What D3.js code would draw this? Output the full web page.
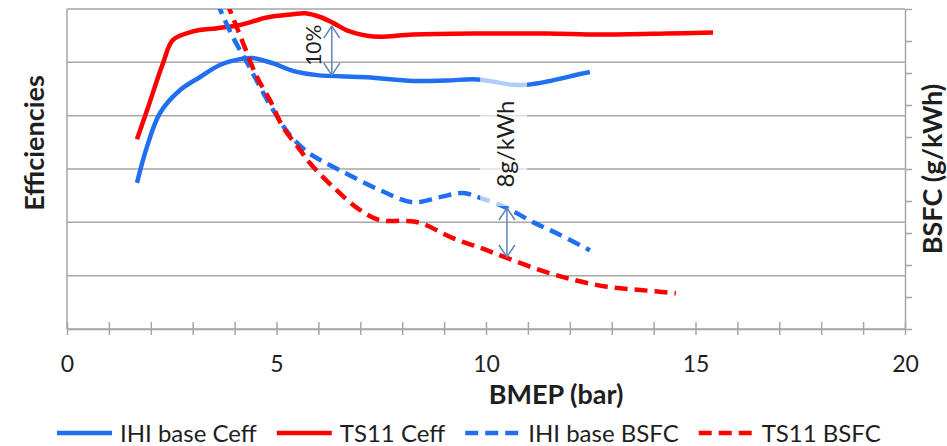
<!DOCTYPE html>
<html lang="en">
<head>
<meta charset="UTF-8" />
<title>Efficiencies and BSFC vs BMEP</title>
<script src="https://d3js.org/d3.v7.min.js"></script>
<style>
  body { margin: 0; background: #fff; }
  text { font-family: Lato, "Open Sans", sans-serif; fill: #1e1e1e; }
  .axis-title { font-weight: bold; font-size: 27px; }
</style>
</head>
<body>
<div id="chart"></div>
<script>
// BMEP (bar) and values
const ihiCeffX = [1.67, 1.91, 2.22, 2.70, 3.17, 3.65, 4.13, 4.44, 4.92, 5.39, 5.97, 7.16, 8.26, 9.07, 9.79, 10.64, 10.98, 11.46, 12.24, 12.48];
const ihiCeffY = [28.7, 32.1, 35.25, 37.4, 38.6, 39.75, 40.3, 40.4, 39.9, 39.2, 38.8, 38.6, 38.25, 38.3, 38.4, 37.9, 37.9, 38.2, 38.9, 39.1];

const ts11CeffX = [1.67, 1.91, 2.29, 2.53, 3.01, 3.58, 4.13, 4.77, 5.39, 5.68, 6.04, 6.35, 6.68, 7.16, 7.47, 8.26, 9.86, 11.46, 12.72, 14.32, 15.42];
const ts11CeffY = [32.8, 35.5, 39.9, 42.1, 42.9, 43.2, 43.5, 44.2, 44.5, 44.6, 44.25, 43.7, 43.0, 42.5, 42.4, 42.6, 42.7, 42.7, 42.6, 42.7, 42.8];

const ihiBsfcX = [3.40, 3.65, 3.96, 4.30, 4.61, 4.92, 5.32, 5.73, 6.04, 6.51, 7.47, 8.26, 8.90, 9.45, 9.86, 10.50, 11.12, 11.77, 12.48];
const ihiBsfcY = [254.0, 250.0, 245.6, 241.6, 237.8, 234.2, 230.3, 227.7, 226.4, 224.8, 221.7, 219.8, 220.6, 221.25, 220.5, 218.9, 216.7, 214.7, 212.3];

const ts11BsfcX = [3.62, 3.89, 4.20, 4.53, 4.84, 5.15, 5.56, 5.80, 6.35, 6.99, 7.47, 8.02, 8.42, 9.21, 9.86, 10.50, 11.29, 12.08, 12.89, 13.68, 14.53];
const ts11BsfcY = [254.0, 249.8, 244.7, 239.4, 235.8, 231.6, 228.0, 225.9, 222.2, 218.6, 217.0, 216.9, 216.6, 214.2, 212.7, 211.1, 209.2, 207.7, 206.6, 206.1, 205.6];

const seriesNames = ["IHI base Ceff", "TS11 Ceff", "IHI base BSFC", "TS11 BSFC"];
const xTickLabels = [0, 5, 10, 15, 20];

const w = 947;
const h = 446;
const plotLeft = 67, plotRight = 905, plotTop = 9, plotBottom = 329;

const blue = "#1f6ff0";
const red = "#ff0000";
const grid = "#a6a6a6";
const arrowColor = "#5b84bd";

const svg = d3.select("#chart").append("svg")
  .attr("width", w)
  .attr("height", h);

// scales: efficiencies on the left (no labels), BSFC on the right
const x = d3.scaleLinear().domain([0, 20]).range([plotLeft, plotRight]);
const yL = d3.scaleLinear().domain([15, 45]).range([plotBottom, plotTop]);
const yR = d3.scaleLinear().domain([200, 250]).range([plotBottom, plotTop]);

svg.append("clipPath").attr("id", "plot")
  .append("rect")
  .attr("x", plotLeft).attr("y", plotTop)
  .attr("width", plotRight - plotLeft).attr("height", plotBottom - plotTop);

// horizontal gridlines
svg.append("g")
  .selectAll("line")
  .data(yL.ticks(6))
  .join("line")
  .attr("x1", plotLeft).attr("x2", plotRight)
  .attr("y1", d => yL(d)).attr("y2", d => yL(d))
  .attr("stroke", grid).attr("stroke-width", 1.5);

// left axis line
svg.append("line")
  .attr("x1", plotLeft).attr("x2", plotLeft)
  .attr("y1", plotTop).attr("y2", plotBottom)
  .attr("stroke", grid).attr("stroke-width", 1.5);

// right axis, ticks only
const rAxis = svg.append("g")
  .attr("transform", `translate(${plotRight}, 0)`)
  .call(d3.axisRight(yR).ticks(10).tickSize(7).tickSizeOuter(0).tickFormat(""));
rAxis.selectAll("path, line").attr("stroke", grid).attr("stroke-width", 1.5);

// x axis with crossing ticks
const xAxis = svg.append("g")
  .attr("transform", `translate(0, ${plotBottom})`)
  .call(d3.axisBottom(x).tickValues(d3.range(0, 21)).tickSizeOuter(0)
    .tickFormat(d => xTickLabels.includes(d) ? d : ""));
xAxis.select(".domain").attr("stroke", grid).attr("stroke-width", 1.5);
xAxis.selectAll(".tick line").attr("y1", -7).attr("y2", 6)
  .attr("stroke", grid).attr("stroke-width", 1.5);
xAxis.selectAll(".tick text")
  .attr("y", 27)
  .style("font-size", "23px")
  .style("font-family", "Lato, sans-serif")
  .attr("fill", "#1e1e1e");

// series
const series = [
  { xs: ihiCeffX, ys: ihiCeffY, scale: yL, color: blue, dash: null },
  { xs: ts11CeffX, ys: ts11CeffY, scale: yL, color: red, dash: null },
  { xs: ihiBsfcX, ys: ihiBsfcY, scale: yR, color: blue, dash: "13,7" },
  { xs: ts11BsfcX, ys: ts11BsfcY, scale: yR, color: red, dash: "13,7" }
];

const lines = svg.append("g").attr("clip-path", "url(#plot)");
series.forEach(s => {
  const pts = s.xs.map((v, i) => [v, s.ys[i]]);
  const line = d3.line()
    .x(d => x(d[0]))
    .y(d => s.scale(d[1]))
    .curve(d3.curveCatmullRom.alpha(0.5));
  lines.append("path")
    .datum(pts)
    .attr("d", line)
    .attr("fill", "none")
    .attr("stroke", s.color)
    .attr("stroke-width", 4.5)
    .attr("stroke-dasharray", s.dash);
});

// annotation: semi-transparent label box for 8g/kWh
const boxX = [9.86, 10.98];
const boxY = [219.2, 239.7];
svg.append("rect")
  .attr("x", x(boxX[0])).attr("y", yR(boxY[1]))
  .attr("width", x(boxX[1]) - x(boxX[0]))
  .attr("height", yR(boxY[0]) - yR(boxY[1]))
  .attr("fill", "#fff").attr("opacity", 0.65);

// double headed arrows
const defs = svg.append("defs");
defs.append("marker")
  .attr("id", "head")
  .attr("viewBox", "-2 -10 16 20")
  .attr("markerUnits", "userSpaceOnUse")
  .attr("markerWidth", 16).attr("markerHeight", 20)
  .attr("refX", 12).attr("refY", 0)
  .attr("orient", "auto-start-reverse")
  .append("path")
  .attr("d", "M0,-8L12,0L0,8")
  .attr("fill", "none")
  .attr("stroke", arrowColor)
  .attr("stroke-width", 1.5);

const arrows = [
  { x: 6.32, y1: 43.4, y2: 38.8, scale: yL },
  { x: 10.5, y1: 218.9, y2: 211.25, scale: yR }
];
svg.append("g").selectAll("line")
  .data(arrows)
  .join("line")
  .attr("x1", d => x(d.x)).attr("x2", d => x(d.x))
  .attr("y1", d => d.scale(d.y1)).attr("y2", d => d.scale(d.y2))
  .attr("stroke", arrowColor).attr("stroke-width", 1.5)
  .attr("marker-start", "url(#head)")
  .attr("marker-end", "url(#head)");

const notes = [
  { text: "10%", x: 5.87, y: 41.6, scale: yL, size: 21 },
  { text: "8g/kWh", x: 10.43, y: 228.9, scale: yR, size: 24 }
];
svg.append("g").selectAll("text")
  .data(notes)
  .join("text")
  .attr("transform", d => `translate(${x(d.x)}, ${d.scale(d.y)}) rotate(-90)`)
  .attr("text-anchor", "middle")
  .attr("dominant-baseline", "central")
  .style("font-size", d => d.size + "px")
  .text(d => d.text);

// axis titles
svg.append("text").attr("class", "axis-title")
  .attr("transform", "translate(33, 143) rotate(-90)")
  .attr("text-anchor", "middle").attr("dominant-baseline", "central")
  .text("Efficiencies");

svg.append("text").attr("class", "axis-title")
  .attr("transform", "translate(931, 169) rotate(-90)")
  .attr("text-anchor", "middle").attr("dominant-baseline", "central")
  .text("BSFC (g/kWh)");

svg.append("text").attr("class", "axis-title")
  .attr("x", 556).attr("y", 404)
  .attr("text-anchor", "middle")
  .text("BMEP (bar)");

// legend
const legend = svg.append("g").attr("transform", "translate(57, 433)");
let lx = 0;
series.forEach((s, i) => {
  const item = legend.append("g").attr("transform", `translate(${lx}, 0)`);
  item.append("line")
    .attr("x1", 0).attr("x2", 55)
    .attr("stroke", s.color).attr("stroke-width", 4.5)
    .attr("stroke-dasharray", s.dash);
  const t = item.append("text")
    .attr("x", 63).attr("y", 8.5)
    .style("font-size", "24px")
    .text(seriesNames[i]);
  lx += 63 + t.node().getComputedTextLength() + 20;
});
</script>
</body>
</html>
